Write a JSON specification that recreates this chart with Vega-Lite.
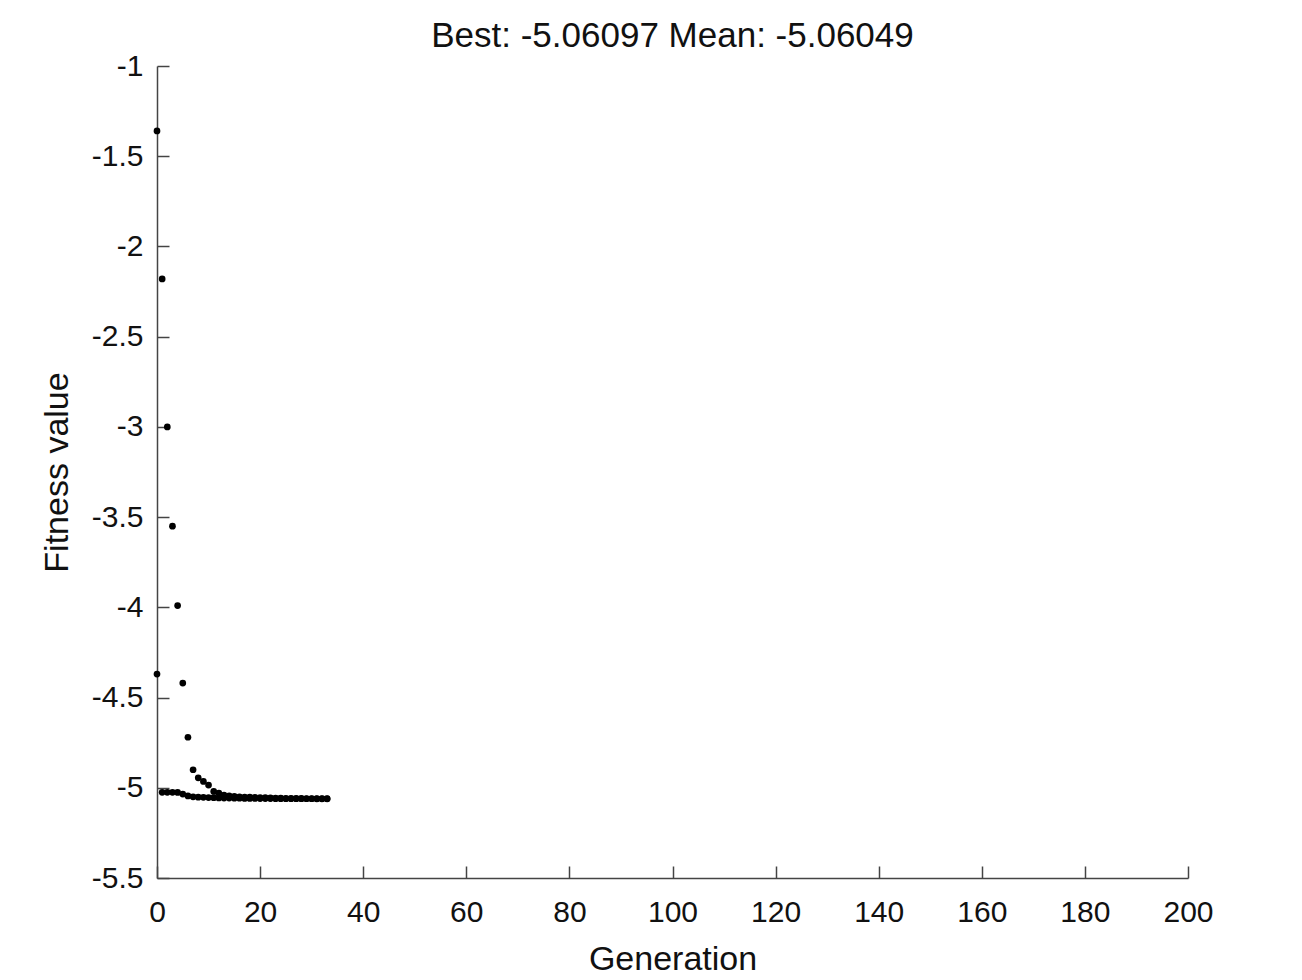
{
  "$schema": "https://vega.github.io/schema/vega-lite/v6.json",
  "autosize": "none",
  "width": 1031,
  "height": 812,
  "padding": {"left": 157, "top": 66, "right": 114, "bottom": 102},
  "background": "white",
  "config": {
    "view": {"stroke": null},
    "font": "Liberation Sans",
    "axis": {"grid": false, "domainColor": "#444444", "tickColor": "#444444", "labelColor": "#111111", "titleColor": "#111111", "labelFont": "Liberation Sans", "titleFont": "Liberation Sans", "labelFontSize": 30, "titleFontSize": 34, "titleFontWeight": "normal", "tickSize": -12, "domainWidth": 1.5, "tickWidth": 1.5, "labelFlush": false, "labelOverlap": false}
  },
  "title": {"text": "Best: -5.06097 Mean: -5.06049", "fontSize": 35, "fontWeight": "normal", "font": "Liberation Sans", "color": "#111111", "offset": -3, "anchor": "middle"},
  "data": {"values": [
    {"gen": 0, "value": -1.36, "series": "Mean"},
    {"gen": 1, "value": -2.18, "series": "Mean"},
    {"gen": 2, "value": -3.0, "series": "Mean"},
    {"gen": 3, "value": -3.55, "series": "Mean"},
    {"gen": 4, "value": -3.99, "series": "Mean"},
    {"gen": 5, "value": -4.42, "series": "Mean"},
    {"gen": 6, "value": -4.72, "series": "Mean"},
    {"gen": 7, "value": -4.9, "series": "Mean"},
    {"gen": 8, "value": -4.945, "series": "Mean"},
    {"gen": 9, "value": -4.965, "series": "Mean"},
    {"gen": 10, "value": -4.985, "series": "Mean"},
    {"gen": 11, "value": -5.02, "series": "Mean"},
    {"gen": 12, "value": -5.03, "series": "Mean"},
    {"gen": 13, "value": -5.04, "series": "Mean"},
    {"gen": 14, "value": -5.045, "series": "Mean"},
    {"gen": 15, "value": -5.048, "series": "Mean"},
    {"gen": 16, "value": -5.05, "series": "Mean"},
    {"gen": 17, "value": -5.051, "series": "Mean"},
    {"gen": 18, "value": -5.052, "series": "Mean"},
    {"gen": 19, "value": -5.053, "series": "Mean"},
    {"gen": 20, "value": -5.054, "series": "Mean"},
    {"gen": 21, "value": -5.055, "series": "Mean"},
    {"gen": 22, "value": -5.056, "series": "Mean"},
    {"gen": 23, "value": -5.057, "series": "Mean"},
    {"gen": 24, "value": -5.057, "series": "Mean"},
    {"gen": 25, "value": -5.058, "series": "Mean"},
    {"gen": 26, "value": -5.058, "series": "Mean"},
    {"gen": 27, "value": -5.059, "series": "Mean"},
    {"gen": 28, "value": -5.059, "series": "Mean"},
    {"gen": 29, "value": -5.06, "series": "Mean"},
    {"gen": 30, "value": -5.06, "series": "Mean"},
    {"gen": 31, "value": -5.0603, "series": "Mean"},
    {"gen": 32, "value": -5.0604, "series": "Mean"},
    {"gen": 33, "value": -5.06049, "series": "Mean"},
    {"gen": 0, "value": -4.37, "series": "Best"},
    {"gen": 1, "value": -5.025, "series": "Best"},
    {"gen": 2, "value": -5.025, "series": "Best"},
    {"gen": 3, "value": -5.025, "series": "Best"},
    {"gen": 4, "value": -5.026, "series": "Best"},
    {"gen": 5, "value": -5.035, "series": "Best"},
    {"gen": 6, "value": -5.045, "series": "Best"},
    {"gen": 7, "value": -5.05, "series": "Best"},
    {"gen": 8, "value": -5.052, "series": "Best"},
    {"gen": 9, "value": -5.053, "series": "Best"},
    {"gen": 10, "value": -5.054, "series": "Best"},
    {"gen": 11, "value": -5.055, "series": "Best"},
    {"gen": 12, "value": -5.056, "series": "Best"},
    {"gen": 13, "value": -5.057, "series": "Best"},
    {"gen": 14, "value": -5.057, "series": "Best"},
    {"gen": 15, "value": -5.058, "series": "Best"},
    {"gen": 16, "value": -5.058, "series": "Best"},
    {"gen": 17, "value": -5.059, "series": "Best"},
    {"gen": 18, "value": -5.059, "series": "Best"},
    {"gen": 19, "value": -5.059, "series": "Best"},
    {"gen": 20, "value": -5.06, "series": "Best"},
    {"gen": 21, "value": -5.06, "series": "Best"},
    {"gen": 22, "value": -5.06, "series": "Best"},
    {"gen": 23, "value": -5.0605, "series": "Best"},
    {"gen": 24, "value": -5.0605, "series": "Best"},
    {"gen": 25, "value": -5.0607, "series": "Best"},
    {"gen": 26, "value": -5.0607, "series": "Best"},
    {"gen": 27, "value": -5.0608, "series": "Best"},
    {"gen": 28, "value": -5.0608, "series": "Best"},
    {"gen": 29, "value": -5.0609, "series": "Best"},
    {"gen": 30, "value": -5.0609, "series": "Best"},
    {"gen": 31, "value": -5.06095, "series": "Best"},
    {"gen": 32, "value": -5.06097, "series": "Best"},
    {"gen": 33, "value": -5.06097, "series": "Best"}
  ]},
  "mark": {"type": "circle", "size": 45, "color": "black", "opacity": 1},
  "encoding": {
    "x": {"field": "gen", "type": "quantitative", "scale": {"domain": [0, 200], "nice": false, "zero": false},
      "axis": {"title": "Generation", "values": [0, 20, 40, 60, 80, 100, 120, 140, 160, 180, 200], "labelPadding": 31, "titlePadding": 15}},
    "y": {"field": "value", "type": "quantitative", "scale": {"domain": [-5.5, -1], "nice": false, "zero": false},
      "axis": {"title": "Fitness value", "values": [-5.5, -5, -4.5, -4, -3.5, -3, -2.5, -2, -1.5, -1], "labelExpr": "datum.value + ''", "labelPadding": 26, "titlePadding": 17}}
  }
}
